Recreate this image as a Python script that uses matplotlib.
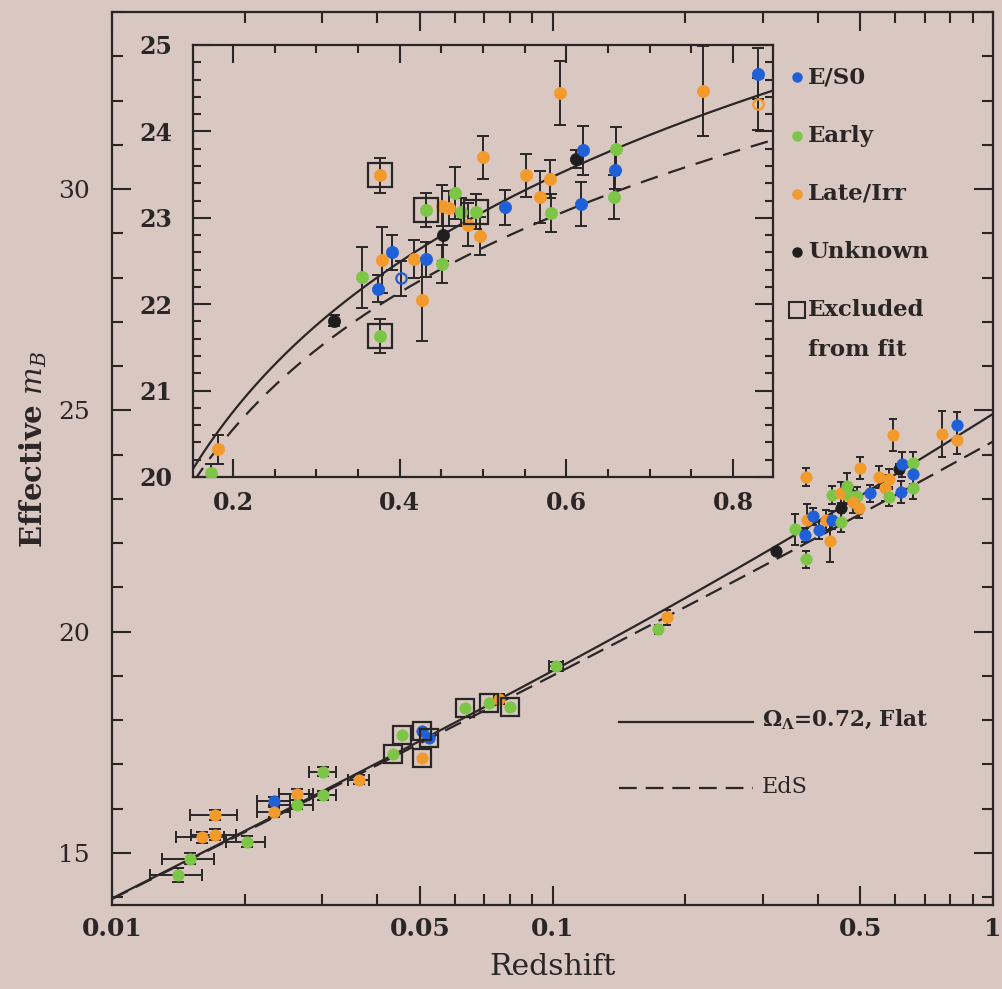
import numpy as np
import matplotlib
matplotlib.use("Agg")
import matplotlib.pyplot as plt
from matplotlib.ticker import FixedLocator, FixedFormatter, MultipleLocator, NullFormatter

plt.rcParams["font.family"] = ["DejaVu Serif"]
plt.rcParams["mathtext.fontset"] = "dejavuserif"

INK = "#2b2626"
PAPER = "#d9c7c1"

# Host-galaxy classes and their colours
class_names = ["E/S0", "Early", "Late/Irr", "Unknown"]
class_colors = ["#1f5fd8", "#7dc546", "#f39a2c", "#1e1e1e"]

# High-redshift supernovae: redshift, effective m_B, error, host class
hz_z = [0.182, 0.174, 0.321, 0.376, 0.376, 0.355, 0.374, 0.379, 0.391, 0.402,
        0.417, 0.432, 0.427, 0.432, 0.451, 0.452, 0.451, 0.459, 0.467, 0.474,
        0.492, 0.482, 0.497, 0.500, 0.527, 0.551, 0.569, 0.580, 0.582, 0.593,
        0.612, 0.620, 0.617, 0.659, 0.658, 0.657, 0.764, 0.830, 0.830]
hz_m = [20.32, 20.05, 21.81, 21.63, 23.49, 22.31, 22.18, 22.51, 22.60, 22.30,
        22.52, 22.52, 22.05, 23.09, 22.47, 22.80, 23.14, 23.11, 23.29, 23.07,
        23.07, 22.92, 22.79, 23.70, 23.12, 23.49, 23.24, 23.45, 23.05, 24.44,
        23.68, 23.78, 23.16, 23.80, 23.55, 23.24, 24.47, 24.67, 24.32]
hz_err = [0.17, 0.10, 0.06, 0.20, 0.20, 0.35, 0.16, 0.38, 0.20, 0.20,
          0.22, 0.20, 0.48, 0.20, 0.22, 0.30, 0.24, 0.20, 0.30, 0.16,
          0.20, 0.25, 0.22, 0.25, 0.20, 0.25, 0.30, 0.22, 0.22, 0.37,
          0.10, 0.28, 0.25, 0.25, 0.22, 0.25, 0.52, 0.30, 0.30]
hz_class = [2, 1, 3, 1, 2, 1, 0, 2, 0, 0,
            2, 0, 2, 1, 1, 3, 2, 2, 1, 1,
            1, 2, 2, 2, 0, 2, 2, 2, 1, 2,
            3, 0, 0, 1, 0, 1, 2, 0, 2]
hz_excluded = [3, 4, 13, 20]
hz_open = [9, 38]

# Low-redshift calibrators: redshift, redshift error, effective m_B, error, host class
lz_z = [0.0141, 0.0150, 0.0160, 0.0171, 0.0171, 0.0202, 0.0233, 0.0233, 0.0263, 0.0263,
        0.0301, 0.0301, 0.0363, 0.0435, 0.0455, 0.0506, 0.0524, 0.0506, 0.0634, 0.0716,
        0.0758, 0.0799, 0.1021]
lz_zerr = [0.0019, 0.0020, 0.0020, 0.0020, 0.0021, 0.0021, 0.0020, 0.0020, 0.0023, 0.0023,
           0.0021, 0.0021, 0.0020, 0.0, 0.0, 0.0, 0.0, 0.0, 0.0, 0.0,
           0.0020, 0.0, 0.0038]
lz_m = [14.50, 14.87, 15.35, 15.41, 15.85, 15.25, 16.17, 15.92, 16.32, 16.09,
        16.30, 16.83, 16.65, 17.23, 17.66, 17.75, 17.60, 17.14, 18.27, 18.39,
        18.48, 18.29, 19.21]
lz_err = [0.15, 0.12, 0.12, 0.12, 0.12, 0.12, 0.10, 0.12, 0.12, 0.10,
          0.10, 0.10, 0.10, 0.0, 0.0, 0.0, 0.0, 0.0, 0.0, 0.0,
          0.10, 0.0, 0.10]
lz_class = [1, 1, 2, 2, 2, 1, 0, 2, 2, 1,
            1, 1, 2, 1, 1, 0, 0, 2, 1, 1,
            2, 1, 1]
lz_excluded = [13, 14, 15, 16, 17, 18, 19, 21]

# Cosmological models: (Omega_M, Omega_Lambda, line style)
models = [(0.28, 0.72, "-"), (1.0, 0.0, "--")]
script_m = 23.95

x_ticks = [0.01, 0.05, 0.1, 0.5, 1.0]
x_ticklabels = ["0.01", "0.05", "0.1", "0.5", "1"]


def luminosity_distance(z, om, ol):
    grid = np.linspace(0.0, float(np.max(z)), 4000)
    inv_e = 1.0 / np.sqrt(om * (1 + grid) ** 3 + ol)
    dc = np.concatenate([[0.0], np.cumsum(0.5 * (inv_e[1:] + inv_e[:-1]) * np.diff(grid))])
    return (1 + z) * np.interp(z, grid, dc)


def draw_sample(ax, z, m, merr, zerr, cls, excluded, open_ids, ms, sq_ms, cap):
    z = np.asarray(z); m = np.asarray(m)
    merr = np.asarray(merr)
    zerr = np.zeros_like(z) if zerr is None else np.asarray(zerr)
    for i in range(len(z)):
        if merr[i] > 0 or zerr[i] > 0:
            ax.errorbar(z[i], m[i], yerr=merr[i] if merr[i] > 0 else None,
                        xerr=zerr[i] if zerr[i] > 0 else None,
                        fmt="none", ecolor=INK, elinewidth=1.4, capsize=cap,
                        capthick=1.4, zorder=3)
    for i in range(len(z)):
        c = class_colors[cls[i]]
        if i in open_ids:
            ax.plot(z[i], m[i], "o", ms=ms * 0.85, mfc="none", mec=c, mew=1.6, zorder=4)
        else:
            ax.plot(z[i], m[i], "o", ms=ms, mfc=c, mec=c, mew=0.5, zorder=4)
    for i in excluded:
        ax.plot(z[i], m[i], "s", ms=sq_ms, mfc="none", mec=INK, mew=1.6, zorder=5)


W, H = 1003, 989
fig = plt.figure(figsize=(W / 100, H / 100), dpi=100, facecolor=PAPER)

# ---- main Hubble diagram ----
ax = fig.add_axes([112 / W, 1 - 905 / H, 881 / W, 893 / H], facecolor=PAPER)
ax.set_xscale("log")
ax.set_xlim(0.01, 1.0)
ax.set_ylim(13.82, 34.0)

zc = np.logspace(-2, 0, 500)
for om, ol, ls in models:
    ax.plot(zc, script_m + 5 * np.log10(luminosity_distance(zc, om, ol)), ls,
            color=INK, lw=1.6, dashes=(8, 4) if ls == "--" else (None, None), zorder=2)

draw_sample(ax, lz_z, lz_m, lz_err, lz_zerr, lz_class, lz_excluded, [], 8.2, 12.5, 4)
draw_sample(ax, hz_z, hz_m, hz_err, None, hz_class, [], [], 8.2, 12.5, 3)

ax.xaxis.set_major_locator(FixedLocator(x_ticks))
ax.xaxis.set_major_formatter(FixedFormatter(x_ticklabels))
minor_x = [k * 10.0 ** e for e in (-2, -1) for k in range(2, 10) if k != 5]
ax.xaxis.set_minor_locator(FixedLocator(minor_x))
ax.xaxis.set_minor_formatter(NullFormatter())
ax.yaxis.set_major_locator(MultipleLocator(5))
ax.yaxis.set_minor_locator(MultipleLocator(1))
ax.tick_params(which="both", direction="in", top=True, right=True, colors=INK, width=1.5)
ax.tick_params(which="major", length=14)
ax.tick_params(which="minor", length=8)
ax.tick_params(axis="x", which="major", pad=9, labelsize=18)
ax.tick_params(axis="y", which="major", pad=16, labelsize=18)
for lab in ax.get_xticklabels():
    lab.set_fontweight("bold")
for sp in ax.spines.values():
    sp.set_linewidth(1.6)
    sp.set_color(INK)

ax.set_xlabel("Redshift", fontsize=21.5, color=INK, labelpad=8)
ax.set_ylabel(r"Effective $m_B$", fontsize=21, color=INK, fontweight="bold")
ax.yaxis.set_label_coords(-0.071, 0.51)

# ---- inset: high-redshift detail ----
ins = fig.add_axes([193 / W, 1 - 477 / H, 580 / W, 432 / H], facecolor=PAPER)
ins.set_xlim(0.152, 0.848)
ins.set_ylim(20.0, 25.0)
zi = np.linspace(0.152, 0.848, 300)
for om, ol, ls in models:
    ins.plot(zi, script_m + 5 * np.log10(luminosity_distance(zi, om, ol)), ls,
             color=INK, lw=1.6, dashes=(8, 5) if ls == "--" else (None, None), zorder=2)
draw_sample(ins, hz_z, hz_m, hz_err, None, hz_class, hz_excluded, hz_open, 8.8, 17, 4)

ins.xaxis.set_major_locator(MultipleLocator(0.2))
ins.xaxis.set_minor_locator(MultipleLocator(0.05))
ins.yaxis.set_major_locator(MultipleLocator(1))
ins.yaxis.set_minor_locator(MultipleLocator(0.2))
ins.xaxis.set_major_formatter(plt.FuncFormatter(lambda v, p: f"{v:.1f}"))
ins.yaxis.set_major_formatter(plt.FuncFormatter(lambda v, p: f"{v:.0f}"))
ins.tick_params(which="both", direction="in", top=True, right=True, colors=INK, width=1.5)
ins.tick_params(which="major", length=13)
ins.tick_params(which="minor", length=6)
ins.tick_params(axis="x", which="major", pad=10, labelsize=17)
ins.tick_params(axis="y", which="major", pad=15, labelsize=17)
for lab in ins.get_xticklabels() + ins.get_yticklabels():
    lab.set_fontweight("bold")
for sp in ins.spines.values():
    sp.set_linewidth(1.6)
    sp.set_color(INK)

# ---- keys ----
key = fig.add_axes([0, 0, 1, 1], facecolor="none")
key.set_xlim(0, W)
key.set_ylim(H, 0)
key.axis("off")

key_rows = [77, 136, 194, 252]
for name, col, y in zip(class_names, class_colors, key_rows):
    key.plot(797, y, "o", ms=6.5, color=col)
    key.text(808, y, name, fontsize=16.5, fontweight="bold", color=INK, va="center", ha="left")
key.plot(797, 310, "s", ms=11, mfc="none", mec=INK, mew=1.5)
key.text(808, 310, "Excluded", fontsize=16.5, fontweight="bold", color=INK, va="center", ha="left")
key.text(808, 350, "from fit", fontsize=16.5, fontweight="bold", color=INK, va="center", ha="left")

key.plot([619, 753], [722, 722], "-", color=INK, lw=1.6)
key.text(762, 720, r"$\mathbf{\Omega_\Lambda}$=0.72, Flat", fontsize=15.5, fontweight="bold",
         color=INK, va="center", ha="left")
key.plot([619, 753], [788, 788], "--", color=INK, lw=1.6, dashes=(8, 4))
key.text(762, 787, "EdS", fontsize=16, color=INK, va="center", ha="left")

fig.savefig("out.png", dpi=100, facecolor=PAPER)
